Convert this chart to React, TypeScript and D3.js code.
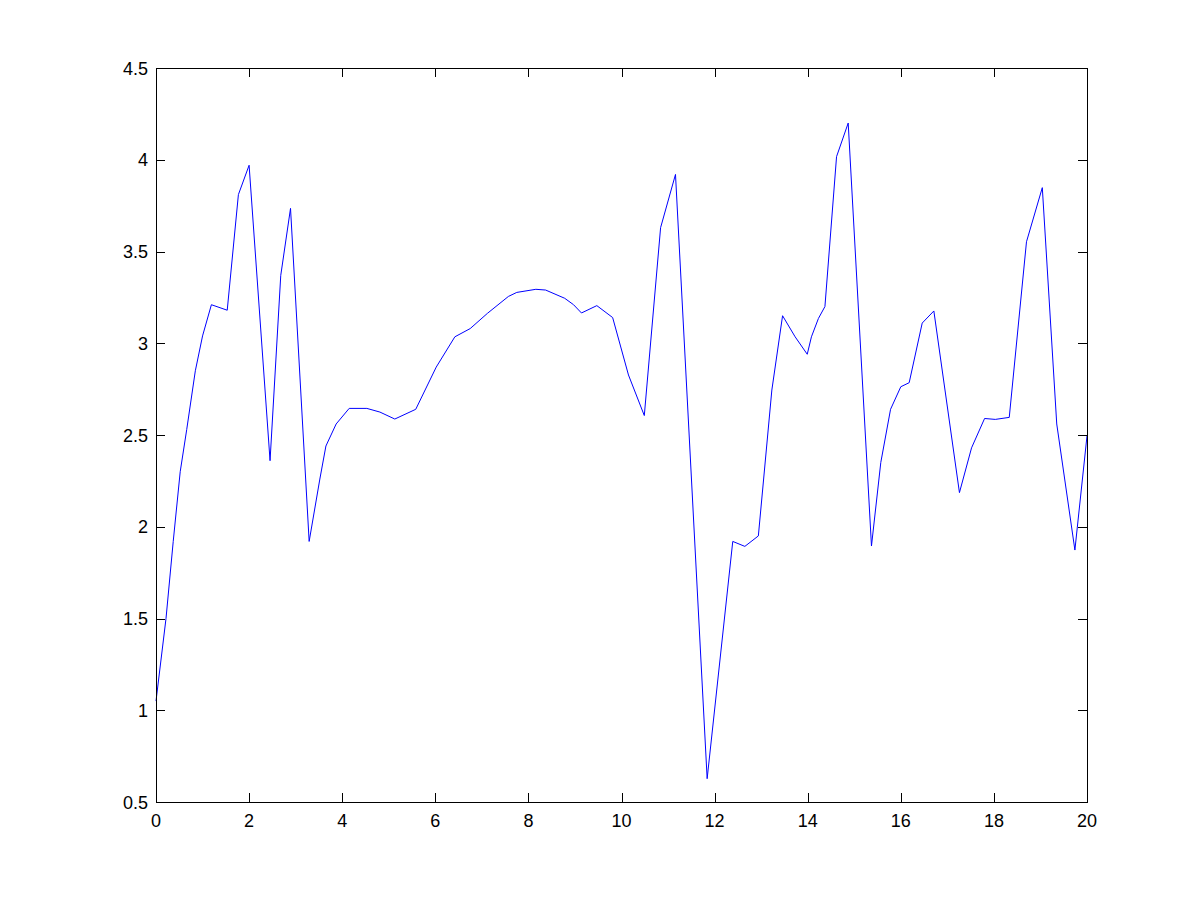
import React from "react";
import * as d3 from "d3";

const xValues: number[] = [0, 0.215, 0.37, 0.52, 0.66, 0.845, 1.0, 1.19, 1.53, 1.77, 2.0, 2.45, 2.68, 2.89, 3.29, 3.52, 3.65, 3.87, 4.15, 4.53, 4.81, 5.13, 5.58, 6.02, 6.42, 6.75, 7.12, 7.57, 7.75, 8.16, 8.37, 8.78, 8.97, 9.14, 9.47, 9.81, 10.15, 10.49, 10.84, 11.16, 11.84, 12.39, 12.65, 12.94, 13.23, 13.46, 13.73, 13.99, 14.08, 14.23, 14.37, 14.62, 14.87, 15.37, 15.57, 15.78, 16.0, 16.18, 16.46, 16.71, 17.26, 17.52, 17.8, 18.03, 18.33, 18.7, 19.04, 19.35, 19.74, 20.0];
const yValues: number[] = [1.05, 1.5, 1.92, 2.3, 2.53, 2.85, 3.04, 3.21, 3.18, 3.81, 3.97, 2.36, 3.37, 3.735, 1.92, 2.26, 2.44, 2.56, 2.645, 2.645, 2.625, 2.587, 2.64, 2.87, 3.035, 3.08, 3.163, 3.255, 3.277, 3.294, 3.29, 3.245, 3.21, 3.165, 3.205, 3.14, 2.827, 2.606, 3.63, 3.92, 0.627, 1.92, 1.893, 1.95, 2.745, 3.15, 3.035, 2.94, 3.035, 3.135, 3.2, 4.017, 4.2, 1.895, 2.35, 2.64, 2.763, 2.785, 3.11, 3.176, 2.186, 2.43, 2.59, 2.585, 2.596, 3.553, 3.848, 2.56, 1.873, 2.495];

const xTicks: number[] = [0, 2, 4, 6, 8, 10, 12, 14, 16, 18, 20];
const yTicks: number[] = [0.5, 1, 1.5, 2, 2.5, 3, 3.5, 4, 4.5];

export default function App() {
  const W = 1201, H = 901;
  const left = 156, right = 1087, top = 68, bottom = 802;
  const x = d3.scaleLinear().domain([0, 20]).range([left, right]);
  const y = d3.scaleLinear().domain([0.5, 4.5]).range([bottom, top]);
  const pts = xValues.map((v, i) => [v, yValues[i]] as [number, number]);
  const line = d3.line<[number, number]>().x(d => x(d[0])).y(d => y(d[1]));
  const tl = 9;
  const font = "Arial, 'Liberation Sans', Helvetica, sans-serif";
  return (
    <svg width={W} height={H} style={{ position: "absolute", left: 0, top: 0, background: "#fff" }}>
      <rect x={0} y={0} width={W} height={H} fill="#fff" />
      <path d={line(pts) || ""} fill="none" stroke="#0000ff" strokeWidth={1} />
      <rect x={left + 0.5} y={top + 0.5} width={right - left} height={bottom - top} fill="none" stroke="#000" strokeWidth={1} />
      {xTicks.map(t => (
        <g key={"x" + t}>
          <line x1={Math.round(x(t)) + 0.5} x2={Math.round(x(t)) + 0.5} y1={bottom} y2={bottom - tl} stroke="#000" />
          <line x1={Math.round(x(t)) + 0.5} x2={Math.round(x(t)) + 0.5} y1={top} y2={top + tl} stroke="#000" />
          <text x={x(t)} y={827} textAnchor="middle" fontFamily={font} fontSize={18} fill="#000">{t}</text>
        </g>
      ))}
      {yTicks.map(t => (
        <g key={"y" + t}>
          <line x1={left} x2={left + tl} y1={Math.round(y(t)) + 0.5} y2={Math.round(y(t)) + 0.5} stroke="#000" />
          <line x1={right} x2={right - tl} y1={Math.round(y(t)) + 0.5} y2={Math.round(y(t)) + 0.5} stroke="#000" />
          <text x={148} y={y(t) + 6.5} textAnchor="end" fontFamily={font} fontSize={18} fill="#000">{t}</text>
        </g>
      ))}
    </svg>
  );
}
